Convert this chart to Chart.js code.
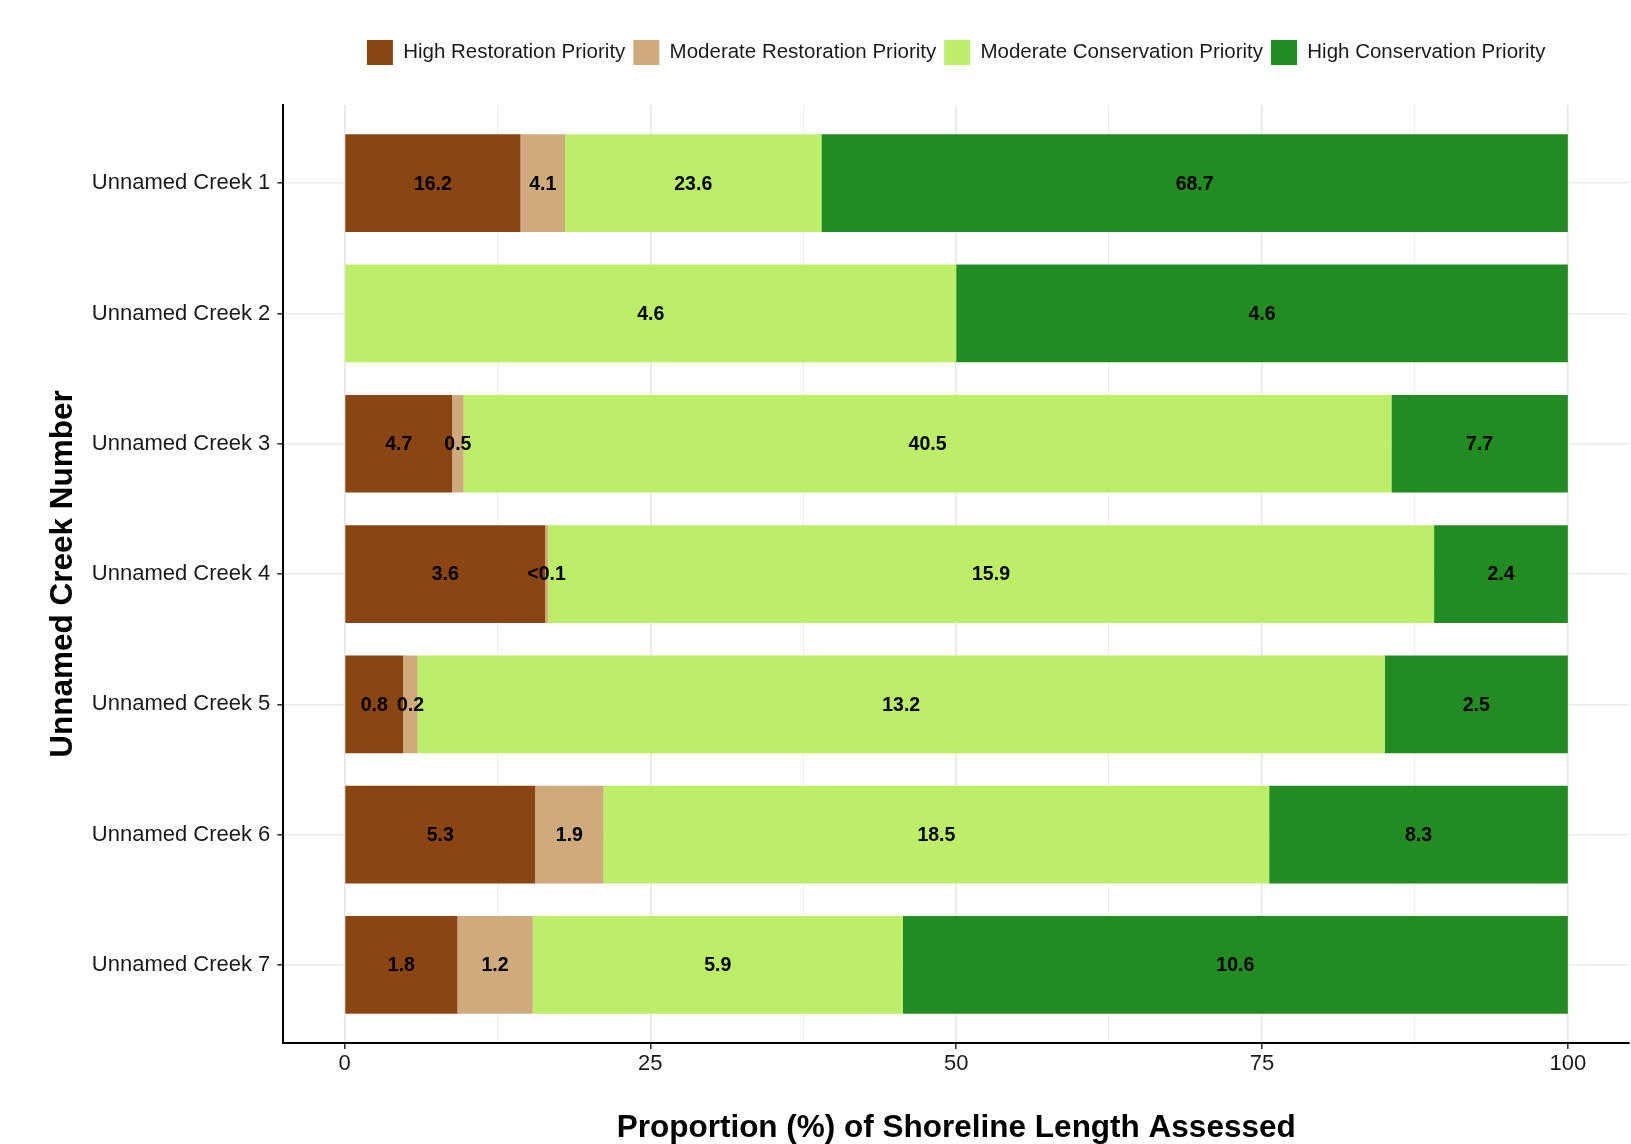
<!DOCTYPE html>
<html>
<head>
<meta charset="utf-8">
<script src="https://cdn.jsdelivr.net/npm/chart.js@4.4.1/dist/chart.umd.min.js"></script>
<style>
  html, body { margin: 0; padding: 0; background: #ffffff; }
  #wrap { width: 1631px; height: 1144px; position: relative; }
</style>
</head>
<body>
<div id="wrap"><canvas id="c" width="1631" height="1144"></canvas></div>
<script>
// ---- DATA (shoreline length assessed per priority class; label shows length, bar shows proportion) ----
const creeks = ["Unnamed Creek 1", "Unnamed Creek 2", "Unnamed Creek 3", "Unnamed Creek 4",
                "Unnamed Creek 5", "Unnamed Creek 6", "Unnamed Creek 7"];
const seriesNames = ["High Restoration Priority", "Moderate Restoration Priority",
                     "Moderate Conservation Priority", "High Conservation Priority"];
const highRestoration     = [16.2, 0,   4.7, 3.6,  0.8, 5.3,  1.8];
const moderateRestoration = [4.1,  0,   0.5, 0.05, 0.2, 1.9,  1.2];
const moderateConservation= [23.6, 4.6, 40.5, 15.9, 13.2, 18.5, 5.9];
const highConservation    = [68.7, 4.6, 7.7, 2.4,  2.5, 8.3, 10.6];
const seriesColors = ["#8B4513", "#CFAA7D", "#BCEE68", "#228B22"];
const xTickValues = [0, 12.5, 25, 37.5, 50, 62.5, 75, 87.5, 100];
const xTickLabels = {0: "0", 25: "25", 50: "50", 75: "75", 100: "100"};

const seriesValues = [highRestoration, moderateRestoration, moderateConservation, highConservation];
const totals = creeks.map((c, i) => seriesValues.reduce((s, arr) => s + arr[i], 0));

function fmtLabel(v) {
  if (v < 0.1) return "<0.1";
  return v.toFixed(1);
}

const datasets = seriesValues.map((vals, k) => ({
  label: seriesNames[k],
  backgroundColor: seriesColors[k],
  borderWidth: 0,
  raw: vals,
  data: vals.map((v, i) => ({ x: v / totals[i] * 100, y: i + 1 }))
}));

const FONT = "'Liberation Sans', Arial, Helvetica, sans-serif";

const legendSpacer = {
  id: 'legendSpacer',
  afterInit(chart) {
    const lg = chart.legend;
    if (lg && !lg._patched) {
      const orig = lg.fit.bind(lg);
      lg.fit = function () { orig(); this.height += 30; };
      lg._patched = true;
    }
  }
};

const barLabels = {
  id: 'barLabels',
  afterDatasetsDraw(chart) {
    const ctx = chart.ctx;
    ctx.save();
    ctx.font = "bold 19.5px " + FONT;
    ctx.fillStyle = "#000000";
    ctx.textAlign = "center";
    ctx.textBaseline = "middle";
    chart.data.datasets.forEach((ds, di) => {
      const meta = chart.getDatasetMeta(di);
      meta.data.forEach((el, i) => {
        const v = ds.raw[i];
        if (!v) return;
        const p = el.getProps(['x', 'y', 'base'], true);
        const cx = (p.x + p.base) / 2;
        ctx.fillText(fmtLabel(v), cx, p.y + 1);
      });
    });
    ctx.restore();
  }
};

new Chart(document.getElementById('c'), {
  type: 'bar',
  data: { datasets },
  plugins: [legendSpacer, barLabels],
  options: {
    indexAxis: 'y',
    responsive: false,
    animation: false,
    devicePixelRatio: 1,
    layout: { padding: { left: 44, right: 2, top: 32, bottom: 0 } },
    datasets: { bar: { barPercentage: 0.75, categoryPercentage: 1.0 } },
    plugins: {
      tooltip: { enabled: false },
      legend: {
        display: true,
        position: 'top',
        fullSize: false,
        align: 'center',
        labels: {
          boxWidth: 26,
          boxHeight: 25,
          padding: 8,
          color: '#1a1a1a',
          font: { family: FONT, size: 20.5 }
        }
      }
    },
    scales: {
      x: {
        type: 'linear',
        stacked: true,
        min: -5,
        max: 105,
        offset: false,
        afterBuildTicks: (scale) => { scale.ticks = xTickValues.map(v => ({ value: v })); },
        ticks: {
          autoSkip: false,
          maxRotation: 0,
          padding: 2,
          color: '#1a1a1a',
          font: { family: FONT, size: 22 },
          callback: (v) => (xTickLabels[v] !== undefined ? xTickLabels[v] : '')
        },
        grid: {
          offset: false,
          drawOnChartArea: true,
          drawTicks: true,
          tickLength: 6,
          color: (c) => (c.tick && c.tick.value % 25 === 0) ? '#e6e6e6' : '#efefef',
          lineWidth: (c) => (c.tick && c.tick.value % 25 === 0) ? 1.6 : 1.2,
          tickColor: (c) => (c.tick && c.tick.value % 25 === 0) ? '#333333' : 'rgba(0,0,0,0)',
          tickWidth: 1.6
        },
        border: { display: true, color: '#000000', width: 2 },
        title: {
          display: true,
          text: 'Proportion (%) of Shoreline Length Assessed',
          color: '#000000',
          font: { family: FONT, size: 31.5, weight: 'bold', lineHeight: 1.0 },
          padding: { top: 33, bottom: 0 }
        }
      },
      y: {
        type: 'linear',
        stacked: true,
        reverse: true,
        min: 0.4,
        max: 7.6,
        offset: false,
        afterBuildTicks: (scale) => { scale.ticks = creeks.map((c, i) => ({ value: i + 1 })); },
        ticks: {
          autoSkip: false,
          padding: 7,
          color: '#1a1a1a',
          font: { family: FONT, size: 22 },
          callback: (v) => creeks[v - 1] || ''
        },
        grid: {
          offset: false,
          drawOnChartArea: true,
          drawTicks: true,
          tickLength: 6,
          color: '#ebebeb',
          lineWidth: 1.6,
          tickColor: '#333333',
          tickWidth: 1.6
        },
        border: { display: true, color: '#000000', width: 2 },
        title: {
          display: true,
          text: 'Unnamed Creek Number',
          color: '#000000',
          font: { family: FONT, size: 31.5, weight: 'bold', lineHeight: 1.2 },
          padding: { top: 0, bottom: 3 }
        }
      }
    }
  }
});
</script>
</body>
</html>
